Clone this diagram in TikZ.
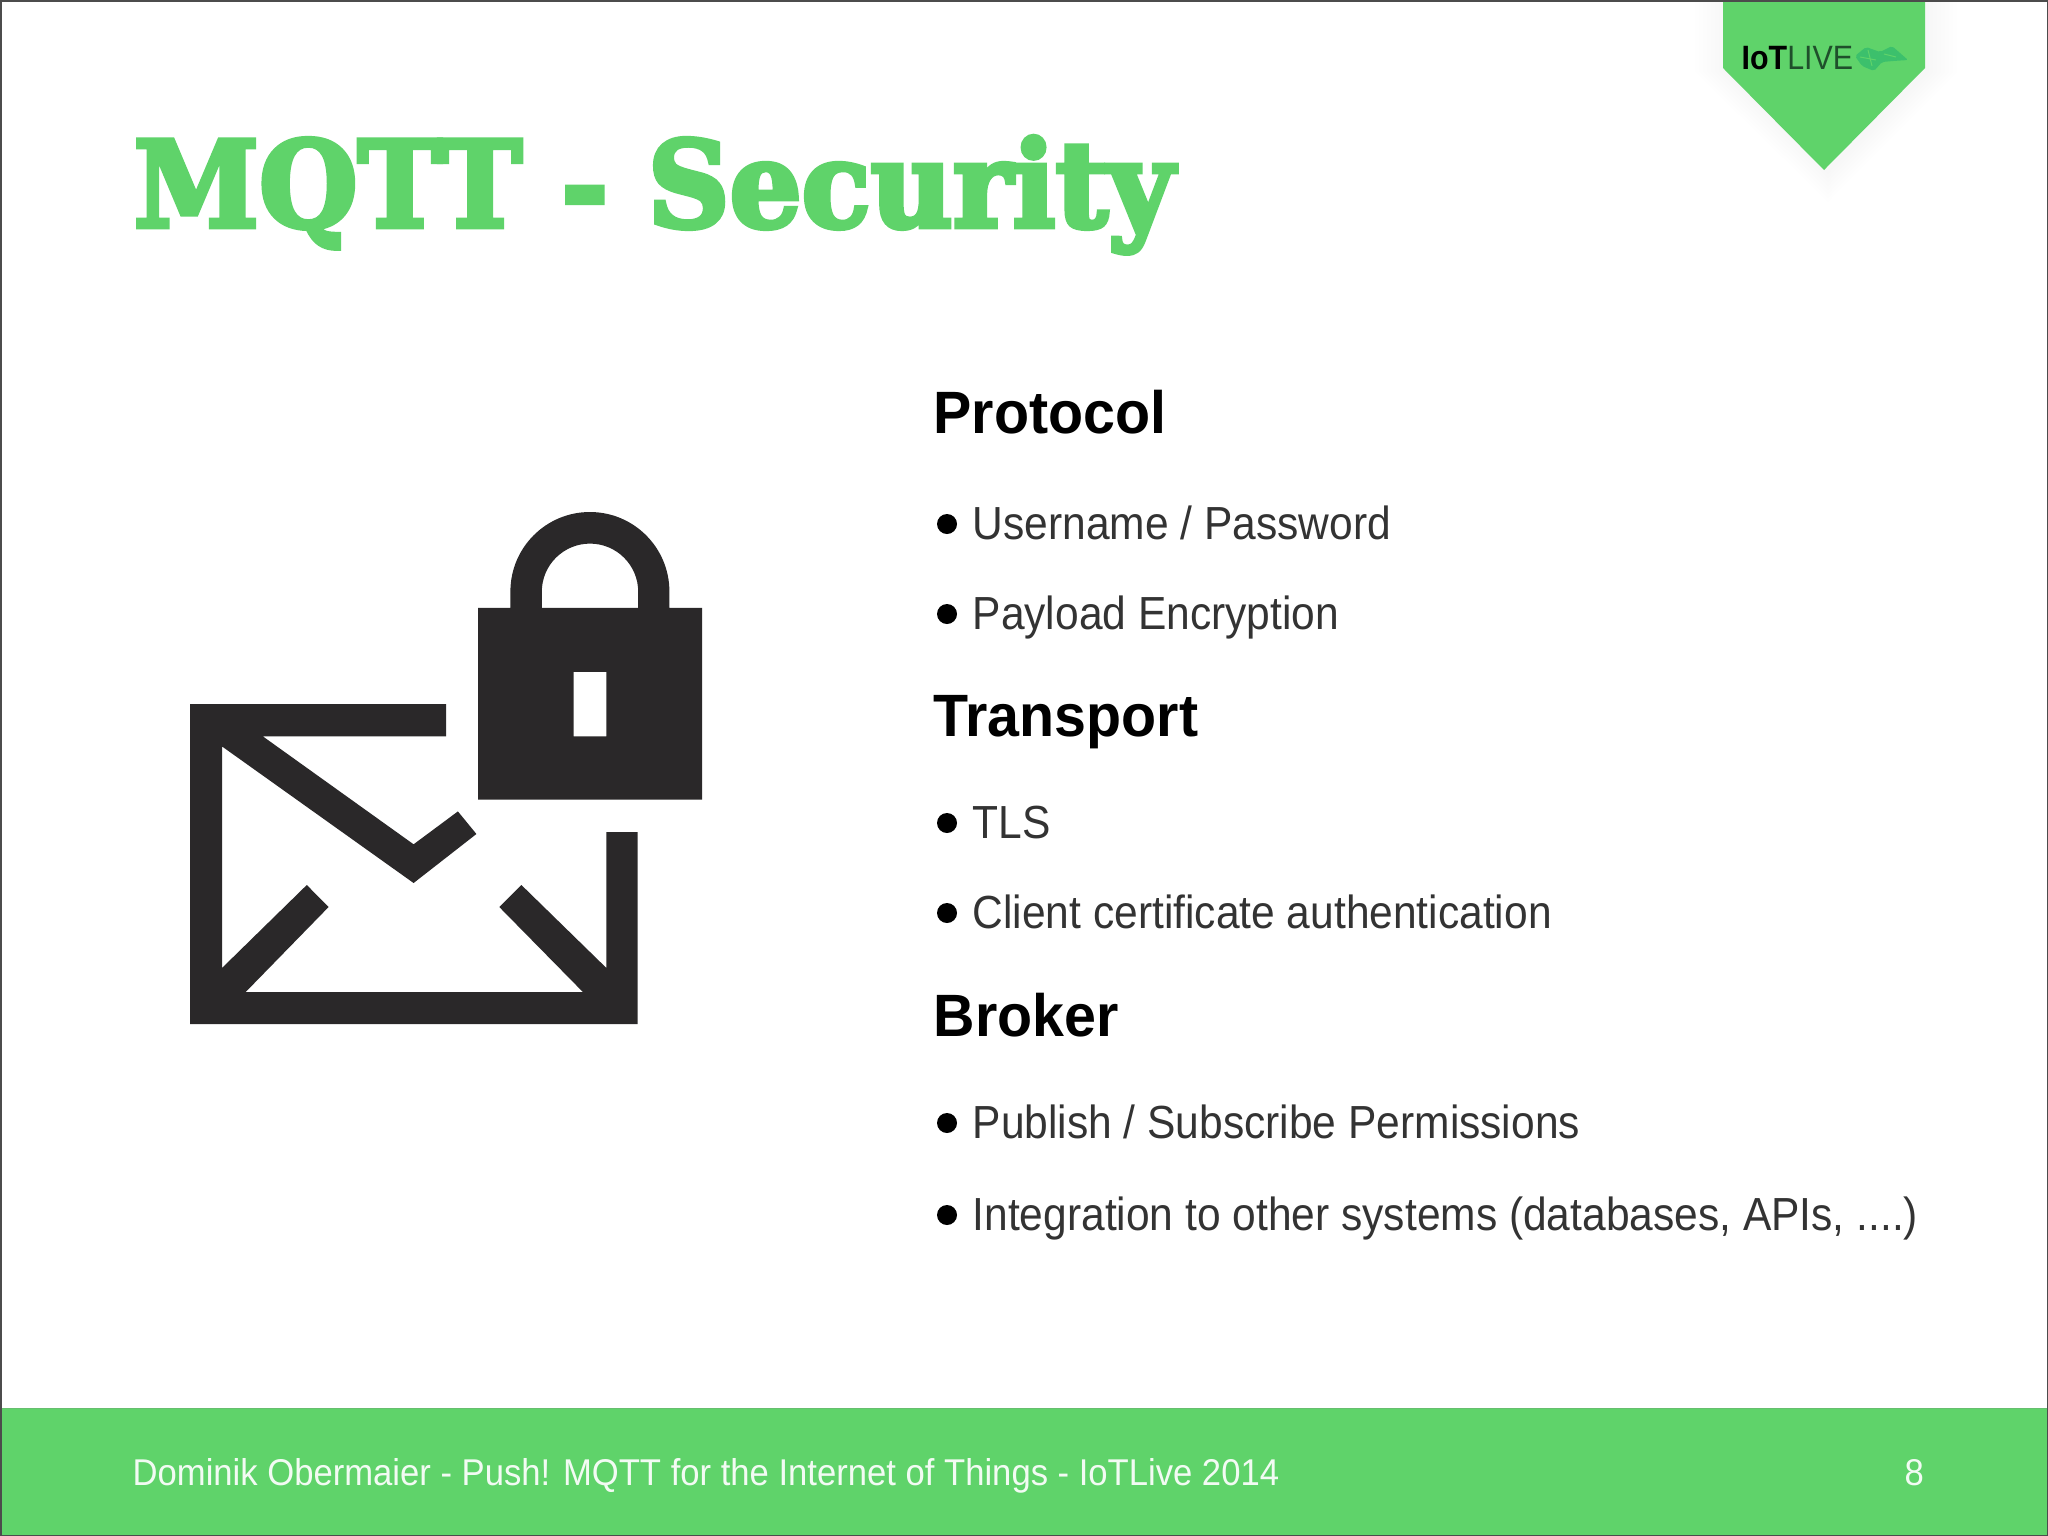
\documentclass[tikz,border=0pt]{standalone}
\usepackage{fontspec}
\usepackage{xcolor}
\usepackage{tikz}
\usetikzlibrary{positioning}
\setmainfont{Liberation Sans}
\newfontfamily\slabfont{DejaVu Serif}[UprightFont=* Bold, FakeBold=4, FakeStretch=0.947]
\newfontfamily\headfont{Liberation Sans}[UprightFont=* Bold, FakeStretch=0.96]
\newfontfamily\itemfont{Liberation Sans}[FakeStretch=0.916]
\newfontfamily\footfont{Liberation Sans}[FakeStretch=0.929]
\newfontfamily\logofont{Liberation Sans}[FakeStretch=0.9]
\definecolor{slidegreen}{HTML}{5FD36A}
\definecolor{icondark}{HTML}{2A2829}
\definecolor{mapgreen}{HTML}{3CC06C}
\definecolor{logodark}{HTML}{1F4F2B}
\tikzset{
    x=0.01cm, y=-0.01cm,
    headline/.style = {anchor=base west, inner sep=0pt, font=\headfont\fontsize{17}{20}\selectfont},
    itemline/.style = {anchor=base west, inner sep=0pt, font=\itemfont\fontsize{13.2}{16}\selectfont, text=black!80},
    itemdot/.style = {circle, fill=black, inner sep=0pt, minimum size=0.2cm},
    footline/.style = {anchor=base west, inner sep=0pt, font=\footfont\fontsize{10.6}{13}\selectfont, text=white!92!slidegreen}
}
\begin{document}
\begin{tikzpicture}
    \useasboundingbox (0,0) rectangle (2048,1536);
    \fill[white] (0,0) rectangle (2048,1536);
    % ribbon with its shadow
    \foreach \grow in {28,24,...,0}
        \fill[black, opacity=0.005] (1723-\grow,0) -- (1929+\grow,0) -- (1929+\grow,72) -- (1828,174+\grow) -- (1723-\grow,72) -- cycle;
    \fill[slidegreen] (1723,0) -- (1925,0) -- (1925,68) -- (1824,170) -- (1723,68) -- cycle;
    \node (logo) [anchor=base west, inner sep=0pt, font=\logofont\fontsize{9.6}{11}\selectfont, text=logodark] at (1741,69) {\textcolor{black}{\textbf{IoT}}LIVE};
    \fill[mapgreen, rounded corners=0.02cm] (1855,56) -- (1866,47) -- (1880,52) -- (1892,46) -- (1908,60) -- (1893,61) -- (1882,62) -- (1874,71) -- (1862,66) -- cycle;
    \draw[slidegreen, line width=0.01cm] (1860,57) -- (1876,60) (1868,50) -- (1872,66) (1884,54) -- (1896,57);
    % title
    \node (title) [anchor=base west, inner sep=0pt, font=\slabfont\fontsize{34}{40}\selectfont, text=slidegreen] at (133,227) {MQTT - Security};
    % envelope
    \fill[icondark] (190,704) -- (446,704) -- (446,736.4) -- (262.9,736.4) -- (413.6,844.3) -- (457.9,811.4) -- (476.4,834) -- (413.6,883) -- (222,746.4) -- (222,968) -- (306.8,885) -- (328.6,907) -- (245.7,992) -- (582.9,992) -- (499.3,907) -- (521.4,885) -- (606.4,968) -- (606.4,832) -- (637.5,832) -- (637.5,1024) -- (190,1024) -- cycle;
    % lock
    \fill[icondark, even odd rule] (478.2,607.9) -- (510.4,607.9) -- (510.4,591.5) arc[start angle=180, end angle=0, x radius=79.5, y radius=-79.5] -- (669.3,607.9) -- (702,607.9) -- (702,799.6) -- (478.2,799.6) -- cycle
        (541.8,607.9) -- (541.8,591.8) arc[start angle=180, end angle=0, x radius=48.2, y radius=-48.2] -- (638.2,607.9) -- cycle
        (573.6,671.8) rectangle (606.4,736.4);
    % text column
    \node (protocol) [headline] at (933,433) {Protocol};
    \node (dotuser) [itemdot] at (947,524) {};
    \node (user) [itemline] at (972,539) {Username / Password};
    \node (dotpayload) [itemdot] at (947,614) {};
    \node (payload) [itemline] at (972,629) {Payload Encryption};
    \node (transport) [headline] at (933,736) {Transport};
    \node (dottls) [itemdot] at (947,823) {};
    \node (tls) [itemline] at (972,838) {TLS};
    \node (dotclient) [itemdot] at (947,913) {};
    \node (client) [itemline] at (972,928) {Client certificate authentication};
    \node (broker) [headline] at (933,1036) {Broker};
    \node (dotpublish) [itemdot] at (947,1123) {};
    \node (publish) [itemline] at (972,1138) {Publish / Subscribe Permissions};
    \node (dotsystems) [itemdot] at (947,1215) {};
    \node (systems) [itemline] at (972,1230) {Integration to other systems (databases, APIs, ....)};
    % footer
    \fill[slidegreen] (0,1408) rectangle (2048,1536);
    \draw[slidegreen!75!gray, line width=0.015cm] (0,1408.5) -- (2048,1408.5);
    \node (footer) [footline] at (132,1485) {Dominik Obermaier - Push! MQTT for the Internet of Things - IoTLive 2014};
    \node (pagenum) [footline] at (1904,1485) {8};
    \draw[black!70, line width=0.03cm] (0,0) rectangle (2048,1536);
\end{tikzpicture}
\end{document}
